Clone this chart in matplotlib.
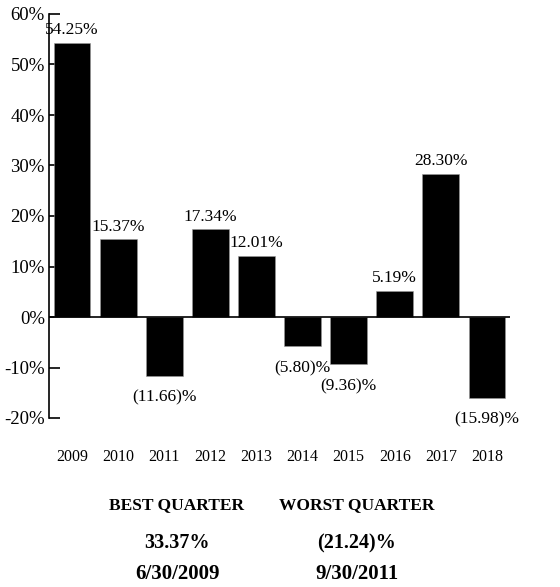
import matplotlib.pyplot as plt

years = ['2009', '2010', '2011', '2012', '2013', '2014', '2015', '2016', '2017', '2018']
returns = [54.25, 15.37, -11.66, 17.34, 12.01, -5.80, -9.36, 5.19, 28.30, -15.98]
yticks = [-20, -10, 0, 10, 20, 30, 40, 50, 60]

best_label = 'BEST QUARTER'
best_value = '33.37%'
best_date = '6/30/2009'
worst_label = 'WORST QUARTER'
worst_value = '(21.24)%'
worst_date = '9/30/2011'

plt.rcParams['font.family'] = ['Liberation Serif', 'DejaVu Serif']


def fmt(v):
    # negatives shown in brackets
    if v < 0:
        return '(%.2f)%%' % abs(v)
    return '%.2f%%' % v


fig = plt.figure(figsize=(5.6, 5.87), dpi=100)
ax = fig.add_axes([49 / 560, (587 - 418) / 587, (510 - 49) / 560, (418 - 14) / 587])

x = list(range(len(years)))
ax.bar(x, returns, width=0.8, color='black', edgecolor='#999999', linewidth=0.4, zorder=2)
ax.axhline(0, color='black', linewidth=1.2, zorder=3)

for xi, v in zip(x, returns):
    if v >= 0:
        ax.annotate(fmt(v), (xi, v), xytext=(0, 3.5), textcoords='offset points',
                    ha='center', va='bottom', fontsize=12.5)
    else:
        ax.annotate(fmt(v), (xi, v), xytext=(0, -10), textcoords='offset points',
                    ha='center', va='top', fontsize=12.5)

ax.set_xlim(-0.5, 9.5)
ax.set_ylim(-20, 60)
ax.set_yticks(yticks)
ax.set_yticklabels(['%d%%' % t for t in yticks], fontsize=13.5)
ax.tick_params(axis='y', direction='in', length=8, width=1.2, pad=3)
ax.set_xticks(x)
ax.set_xticklabels(years, fontsize=11.5)
ax.tick_params(axis='x', length=0, pad=22)

for s in ['top', 'right', 'bottom']:
    ax.spines[s].set_visible(False)
ax.spines['left'].set_linewidth(1.2)

fig.text(177 / 560, 1 - 505 / 587, best_label, ha='center', va='center', fontsize=12.5, fontweight='bold')
fig.text(357 / 560, 1 - 505 / 587, worst_label, ha='center', va='center', fontsize=12.5, fontweight='bold')
fig.text(177 / 560, 1 - 543 / 587, best_value, ha='center', va='center', fontsize=14.5, fontweight='bold')
fig.text(357 / 560, 1 - 543 / 587, worst_value, ha='center', va='center', fontsize=14.5, fontweight='bold')
fig.text(177 / 560, 1 - 574 / 587, best_date, ha='center', va='center', fontsize=15, fontweight='bold')
fig.text(357 / 560, 1 - 574 / 587, worst_date, ha='center', va='center', fontsize=15, fontweight='bold')

fig.savefig('out.png', dpi=100)
